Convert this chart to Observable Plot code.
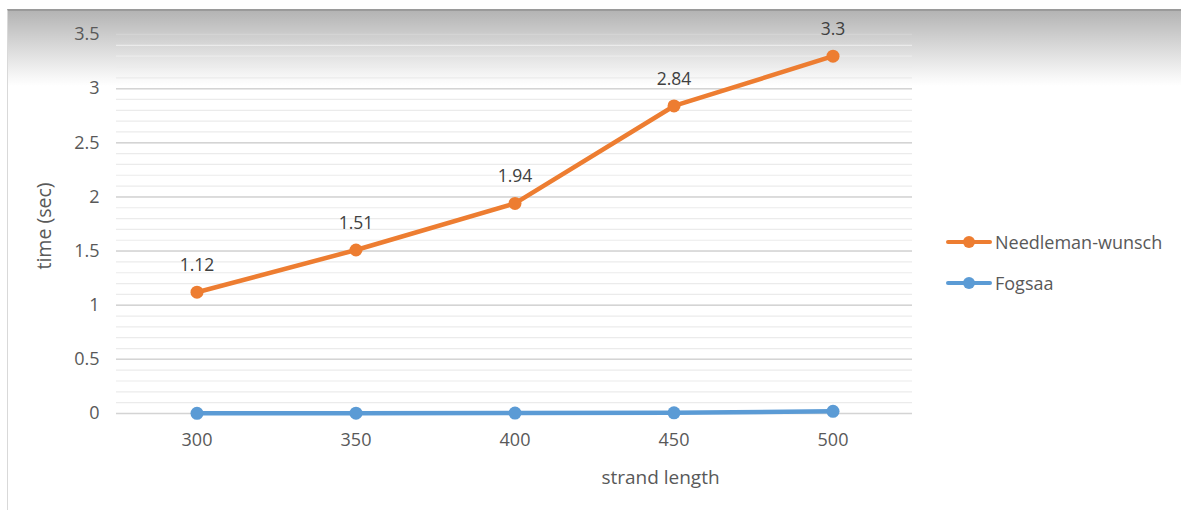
<!DOCTYPE html>
<html>
<head>
<meta charset="utf-8">
<script src="https://cdn.jsdelivr.net/npm/d3@7"></script>
<script src="https://cdn.jsdelivr.net/npm/@observablehq/plot@0.6"></script>
<style>
  html, body { margin: 0; padding: 0; background: #fff; }
  #wrap { position: relative; width: 1181px; height: 510px; overflow: hidden; font-family: "Open Sans", sans-serif; }
  #frame { position: absolute; left: 7px; top: 9px; right: 0; bottom: 0;
    border-top: 2px solid #9a9a9a; border-left: 1px solid #d9d9d9;
    background: linear-gradient(to bottom, #b4b4b4 0px, #d8d8d8 35px, #f6f6f6 65px, #ffffff 75px, #ffffff 100%); }
  #chart { position: absolute; left: 0; top: 0; }
  .leg { position: absolute; left: 946px; display: flex; align-items: center; font-size: 18px; color: #595959; }
  .leg svg { margin-right: 3px; }
</style>
</head>
<body>
<div id="wrap">
  <div id="frame"></div>
  <div id="chart"></div>
</div>
<script>
const categories = ["300", "350", "400", "450", "500"];
const needleman = [1.12, 1.51, 1.94, 2.84, 3.3];
const fogsaa = [0.002, 0.003, 0.004, 0.006, 0.02];
const seriesNames = ["Needleman-wunsch", "Fogsaa"];
const seriesColors = ["#ED7D31", "#5B9BD5"];
const yTicks = [0, 0.5, 1, 1.5, 2, 2.5, 3, 3.5];
const yMinor = d3.range(0, 3.5001, 0.1).map(v => +v.toFixed(1));

const data = [];
categories.forEach((c, i) => {
  data.push({cat: c, value: needleman[i], series: seriesNames[0]});
  data.push({cat: c, value: fogsaa[i], series: seriesNames[1]});
});
const nwData = data.filter(d => d.series === seriesNames[0]);

const plot = Plot.plot({
  width: 1181,
  height: 510,
  marginLeft: 116,
  marginRight: 269,
  marginTop: 34,
  marginBottom: 97,
  style: {background: "transparent", fontFamily: "Open Sans, sans-serif", color: "#595959"},
  x: {type: "band", domain: categories, padding: 0},
  y: {domain: [0, 3.5]},
  color: {domain: seriesNames, range: seriesColors},
  marks: [
    Plot.ruleY(yMinor, {stroke: "#ebebeb", strokeWidth: 1.2}),
    Plot.ruleY(yTicks, {stroke: "#d4d4d4", strokeWidth: 1.5}),
    Plot.axisY({ticks: yTicks, tickSize: 0, tickPadding: 17, fontSize: 18, fill: "#595959",
      tickFormat: d => String(d), label: null}),
    Plot.axisX({tickSize: 0, tickPadding: 20, fontSize: 18, fill: "#595959", label: null}),
    Plot.text(["time (sec)"], {frameAnchor: "left", textAnchor: "middle", lineAnchor: "middle", dx: -72, dy: 2, rotate: -90, fontSize: 19.5, fill: "#595959"}),
    Plot.text(["strand length"], {frameAnchor: "bottom", dx: 146, dy: 70, fontSize: 19, fill: "#595959"}),
    Plot.line(data, {x: "cat", y: "value", z: "series", stroke: "series", strokeWidth: 4.5, strokeLinecap: "round"}),
    Plot.dot(data, {x: "cat", y: "value", fill: "series", r: 6.5}),
    Plot.text(nwData, {x: "cat", y: "value", text: d => String(d.value), dy: -27, fontSize: 17.5, fill: "#404040"})
  ]
});
document.getElementById("chart").appendChild(plot);

const wrap = document.getElementById("wrap");
const legY = [242, 283];
seriesNames.forEach((name, i) => {
  const div = document.createElement("div");
  div.className = "leg";
  div.style.top = (legY[i] - 12) + "px";
  div.style.height = "24px";
  div.innerHTML = `<svg width="46" height="14"><line x1="2" y1="7" x2="44" y2="7" stroke="${seriesColors[i]}" stroke-width="4" stroke-linecap="round"/><circle cx="23" cy="7" r="6" fill="${seriesColors[i]}"/></svg><span>${name}</span>`;
  wrap.appendChild(div);
});
</script>
</body>
</html>
